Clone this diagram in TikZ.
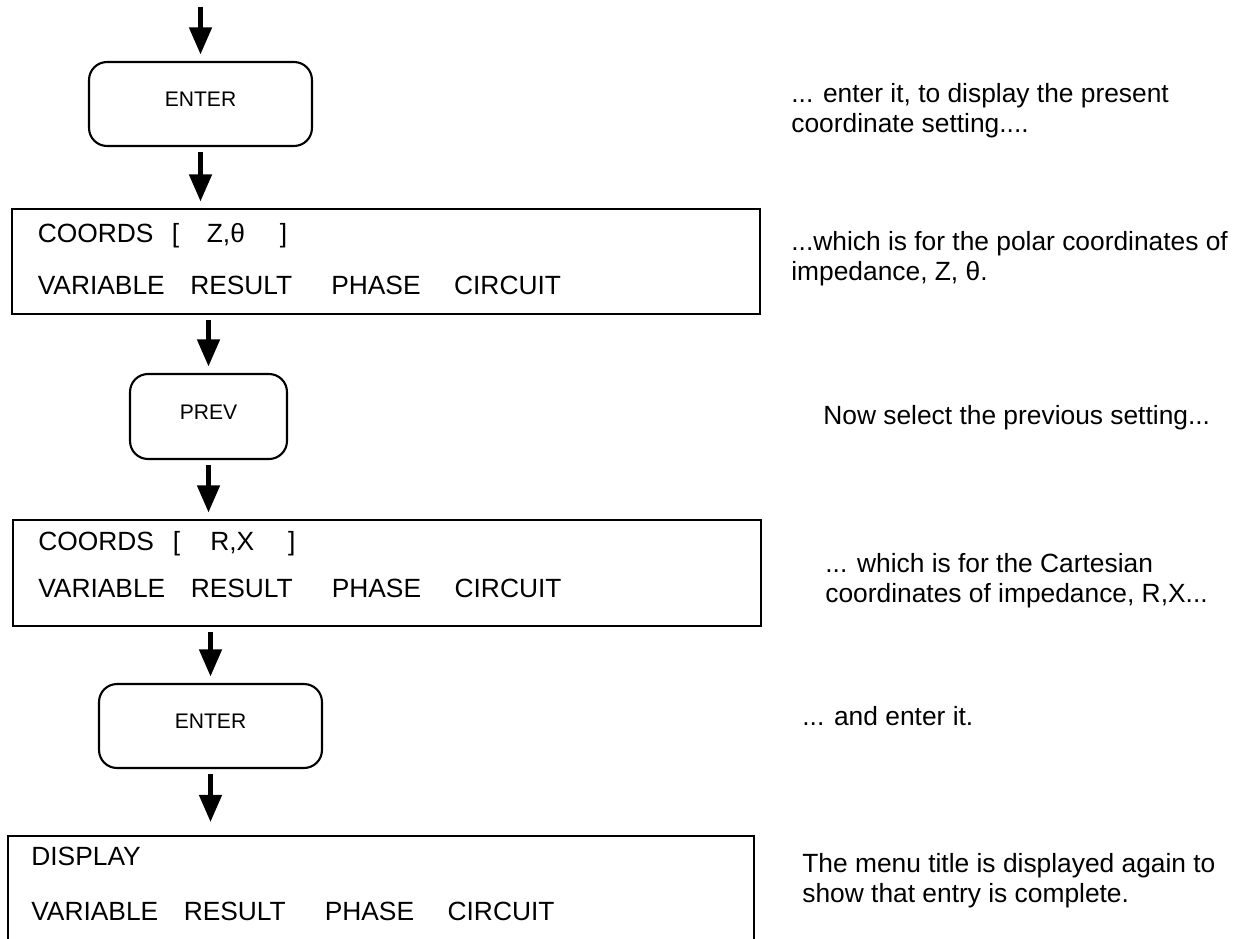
\documentclass[tikz,border=0pt]{standalone}
\usepackage{fontspec}
\setmainfont{Liberation Sans}
\usetikzlibrary{positioning, arrows.meta}

\newcommand{\menuline}{VARIABLE\hspace{0.51cm}RESULT\hspace{0.78cm}PHASE\hspace{0.67cm}CIRCUIT}

\begin{document}
\begin{tikzpicture}[x=0.02cm, y=-0.02cm,
  key/.style={draw, line width=1.2pt, rounded corners=0.36cm,
    font=\fontsize{12}{14}\selectfont, text height=0.3cm, text depth=0.2cm},
  screen/.style={draw, line width=1.2pt, minimum width=14.96cm, minimum height=2.1cm},
  scrtxt/.style={font=\fontsize{15}{17}\selectfont, inner sep=0pt, anchor=base west},
  note/.style={font=\fontsize{15}{17}\selectfont, inner sep=0pt, anchor=north west, align=left},
  flow/.style={line width=2.6pt, -{Triangle[length=0.54cm, width=0.44cm]},
    shorten <=0.1cm, shorten >=0.13cm}]

% --- Page frame (bottom screen runs off the page) ---
\useasboundingbox (0, 0) rectangle (1250, 939);
\clip (0, 0) rectangle (1250, 939);

% --- Keys ---
\node[key, minimum width=4.46cm, minimum height=1.68cm] (enter1) at (200.5, 104) {ENTER};
\node[key, minimum width=3.14cm, minimum height=1.7cm] (prev) at (208.5, 416.5) {PREV};
\node[key, minimum width=4.46cm, minimum height=1.68cm] (enter2) at (210.5, 726) {ENTER};

% --- Screens ---
\node[screen] (coords1) at (386, 261.5) {};
\node[screen, minimum height=2.12cm] (coords2) at (387, 573) {};
\node[screen, minimum width=14.92cm, minimum height=2.3cm] (display) at (381, 893.5) {};

% --- Screen texts ---
\node[scrtxt] (c1top) at (37.5, 242.5)
  {COORDS\hspace{0.37cm}[\hspace{0.55cm}Z,θ\hspace{0.7cm}]};
\node[scrtxt] (c1menu) at (37.5, 294.5) {\menuline};

\node[scrtxt] (c2top) at (38, 550)
  {COORDS\hspace{0.38cm}[\hspace{0.6cm}R,X\hspace{0.68cm}]};
\node[scrtxt] (c2menu) at (38, 597) {\menuline};

\node[scrtxt] (dtop) at (31, 865) {DISPLAY};
\node[scrtxt] (dmenu) at (31, 920) {\menuline};

% --- Flow arrows ---
\coordinate (start) at (200.5, 7);
\draw[flow, shorten <=0pt] (start) -- (start |- enter1.north);
\draw[flow] (enter1.south) -- (enter1.south |- coords1.north);
\draw[flow] (prev.north |- coords1.south) -- (prev.north);
\draw[flow] (prev.south) -- (prev.south |- coords2.north);
\draw[flow] (enter2.north |- coords2.south) -- (enter2.north);
\draw[flow, shorten >=0.26cm] (enter2.south) -- (enter2.south |- display.north);

% --- Notes on the right ---
\node[note] (n1) at (791, 83)
  {... enter it, to display the present\\coordinate setting....};
\node[note] (n2) at (791, 231)
  {...which is for the polar coordinates of\\impedance, Z, θ.};
\node[note] (n3) at (823, 405)
  {Now select the previous setting...};
\node[note] (n4) at (825, 553)
  {... which is for the Cartesian\\coordinates of impedance, R,X...};
\node[note] (n5) at (802, 706)
  {... and enter it.};
\node[note] (n6) at (802, 853)
  {The menu title is displayed again to\\show that entry is complete.};

\end{tikzpicture}
\end{document}
